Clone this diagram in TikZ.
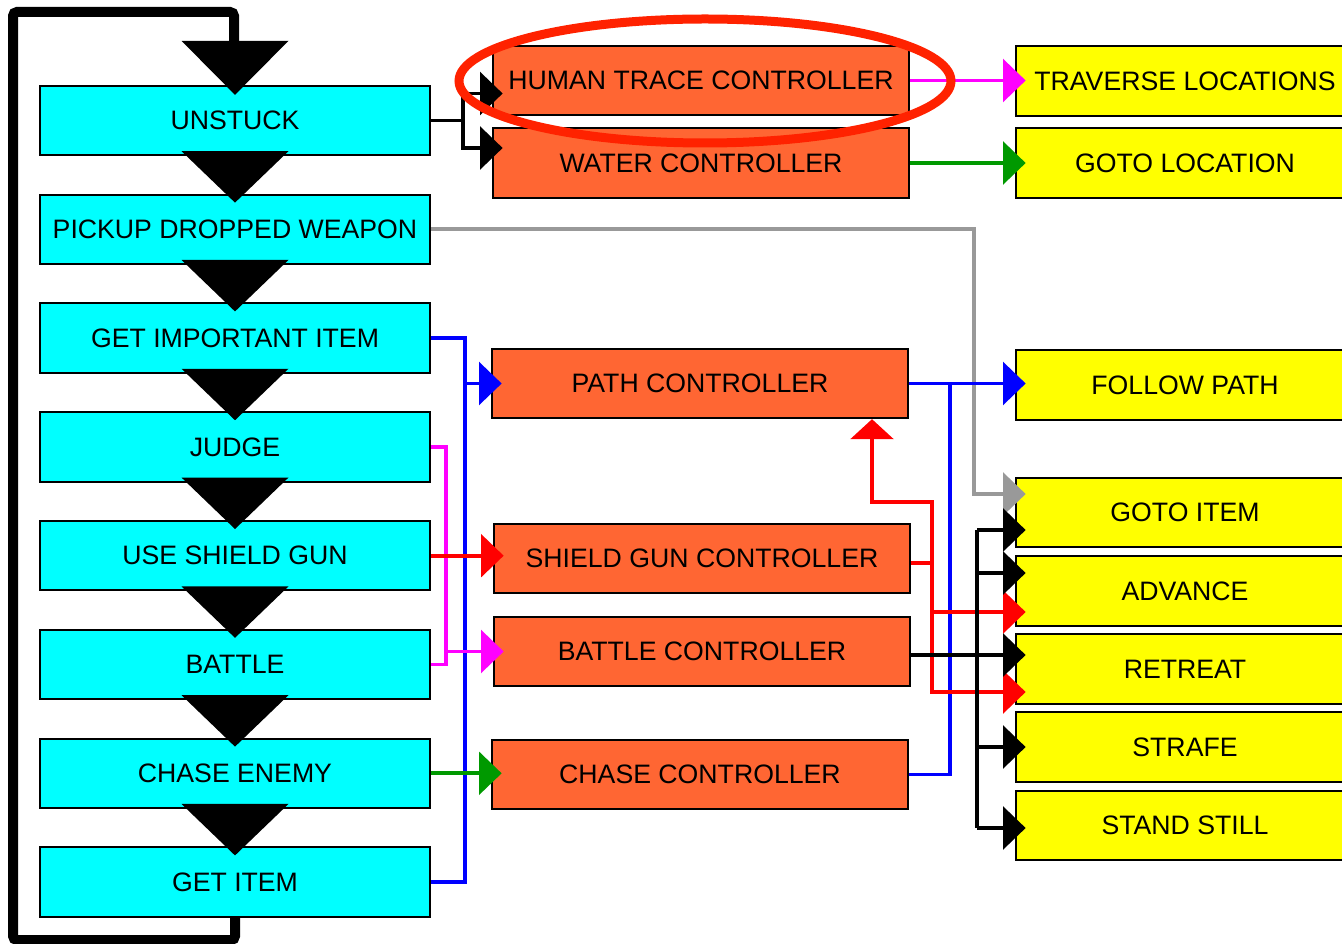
\documentclass[tikz,border=0pt]{standalone}
\usepackage{fontspec}
\setmainfont{Liberation Sans}
\usetikzlibrary{arrows.meta,calc}
\definecolor{cyanbox}{HTML}{00FFFF}
\definecolor{orangebox}{HTML}{FF6633}
\definecolor{yellowbox}{HTML}{FFFF00}
\definecolor{magline}{HTML}{FF00FF}
\definecolor{grnline}{HTML}{009900}
\definecolor{gryline}{HTML}{999999}
\definecolor{ellred}{HTML}{FF2200}
\tikzset{
 box/.style={draw=black, line width=1.5pt, minimum height=52pt, inner sep=0pt, font=\fontsize{20}{24}\selectfont, text=black},
 state/.style={box, fill=cyanbox, minimum width=292.5pt},
 ctrl/.style={box, fill=orangebox, minimum width=312pt},
 act/.style={box, fill=yellowbox, minimum width=253.5pt},
 conn/.style={line width=2.9pt},
 arr/.style={-{Triangle[length=17pt,width=32pt]}, shorten >=-8pt},
 arrz/.style={-{Triangle[length=15pt,width=32pt]}},
 bigtri/.style={fill=black},
 loopline/.style={line width=7.5pt, rounded corners=3pt}
}
\begin{document}
\begin{tikzpicture}[x=0.75pt,y=-0.75pt]
\useasboundingbox (0,0) rectangle (1342,944);
% state boxes
\node[state] (s1) at (235,120.5) {UNSTUCK};
\node[state] (s2) at (235,229.3) {PICKUP DROPPED WEAPON};
\node[state] (s3) at (235,338.1) {GET IMPORTANT ITEM};
\node[state] (s4) at (235,446.9) {JUDGE};
\node[state] (s5) at (235,555.7) {USE SHIELD GUN};
\node[state] (s6) at (235,664.5) {BATTLE};
\node[state] (s7) at (235,773.3) {CHASE ENEMY};
\node[state] (s8) at (235,882.1) {GET ITEM};
% controllers
\node[ctrl] (ht) at (701,80.5) {HUMAN TRACE CONTROLLER};
\node[ctrl] (wc) at (701,163) {WATER CONTROLLER};
\node[ctrl] (pc) at (700,383.5) {PATH CONTROLLER};
\node[ctrl] (sgc) at (702,558.5) {SHIELD GUN CONTROLLER};
\node[ctrl] (bc) at (702,651.5) {BATTLE CONTROLLER};
\node[ctrl] (cc) at (700,774.5) {CHASE CONTROLLER};
% actions
\node[act] (tl) at (1185,81) {TRAVERSE LOCATIONS};
\node[act] (gl) at (1185,163) {GOTO LOCATION};
\node[act] (fp) at (1185,385) {FOLLOW PATH};
\node[act] (gi) at (1185,512.5) {GOTO ITEM};
\node[act] (ad) at (1185,591) {ADVANCE};
\node[act] (rt) at (1185,669) {RETREAT};
\node[act] (sf) at (1185,747) {STRAFE};
\node[act] (ss) at (1185,825.5) {STAND STILL};
% big flow triangles
\fill[bigtri] ($(s1.north)+(-53.5,-44)$) -- ($(s1.north)+(53.5,-44)$) -- ($(s1.north)+(0,10)$) -- cycle;
\foreach \a/\b in {s1/s2,s2/s3,s3/s4,s4/s5,s5/s6,s6/s7,s7/s8}{
  \fill[bigtri] ($(\a.south)+(-53.5,-5)$) -- ($(\a.south)+(53.5,-5)$) -- ($(\b.north)+(0,9)$) -- cycle;
}
% loop back
\coordinate (L1) at (235,940);
\coordinate (L2) at (13,940);
\coordinate (L3) at (13,12);
\coordinate (L4) at (234,12);
\coordinate (L5) at (234,44);
\draw[loopline] (s8.south) -- (L1) -- (L2) -- (L3) -- (L4) -- (L5);
% UNSTUCK -> controllers
\coordinate (j1) at (463,120.5);
\draw[conn] (s1.east) -- (j1);
\draw[conn,arr] (j1) |- ($(ht.west)+(0,13)$);
\draw[conn,arr] (j1) |- ($(wc.west)+(0,-15)$);
% top controllers -> actions
\draw[conn,magline,arr] (ht.east) -- (tl.west |- ht.east);
\draw[conn,grnline,arr] (wc.east) -- (gl.west);
% pickup -> goto item
\coordinate (g1) at (974,229.3);
\draw[conn,gryline,arr] (s2.east) -- (g1) |- ($(gi.west)+(0,-18.5)$);
% blue left
\coordinate (b1) at (465,338.1);
\coordinate (b2) at (465,882.1);
\draw[conn,blue] (s3.east) -- (b1) -- (b2) -- (s8.east);
\draw[conn,blue,arr] (b1 |- pc.west) -- (pc.west);
% magenta
\coordinate (m1) at (446,446.9);
\coordinate (m2) at (446,664.5);
\draw[conn,magline] (s4.east) -- (m1) -- (m2) -- (s6.east);
\draw[conn,magline,arr] (m1 |- bc.west) -- (bc.west);
% red / green left
\draw[conn,red,arr] (s5.east) -- (sgc.west |- s5.east);
\draw[conn,grnline,arr] (s7.east) -- (cc.west |- s7.east);
% blue right
\coordinate (b4) at (950,383.5);
\draw[conn,blue,arr] (pc.east) -- (fp.west |- pc.east);
\draw[conn,blue] (cc.east) -| (b4);
% red right
\coordinate (r1) at (932,563);
\coordinate (r2) at (932,502);
\coordinate (r3) at (872,502);
\draw[conn,red] (sgc.east |- r1) -- (r1);
\draw[conn,red,arrz] (r1) -- (r2) -- (r3) -- (pc.south -| r3);
\draw[conn,red,arr] (r1) |- ($(ad.west)+(0,21)$);
\draw[conn,red,arr] (r1) |- ($(rt.west)+(0,23)$);
% black right
\coordinate (k1) at (977,530);
\coordinate (k5) at (977,828);
\draw[conn] (k1) -- (k5);
\draw[conn,arr] (k1) -- (gi.west |- k1);
\draw[conn,arr] (k1 |- 0,573) -- (ad.west |- 0,573);
\draw[conn,arr] (bc.east |- 0,655) -- (rt.west |- 0,655);
\draw[conn,arr] (k1 |- sf.west) -- (sf.west);
\draw[conn,arr] (k5) -- (ss.west |- k5);
% highlight ellipse
\draw[ellred, line width=6.75pt] (705,81) ellipse [x radius=184.5pt, y radius=46.5pt];
\end{tikzpicture}
\end{document}
